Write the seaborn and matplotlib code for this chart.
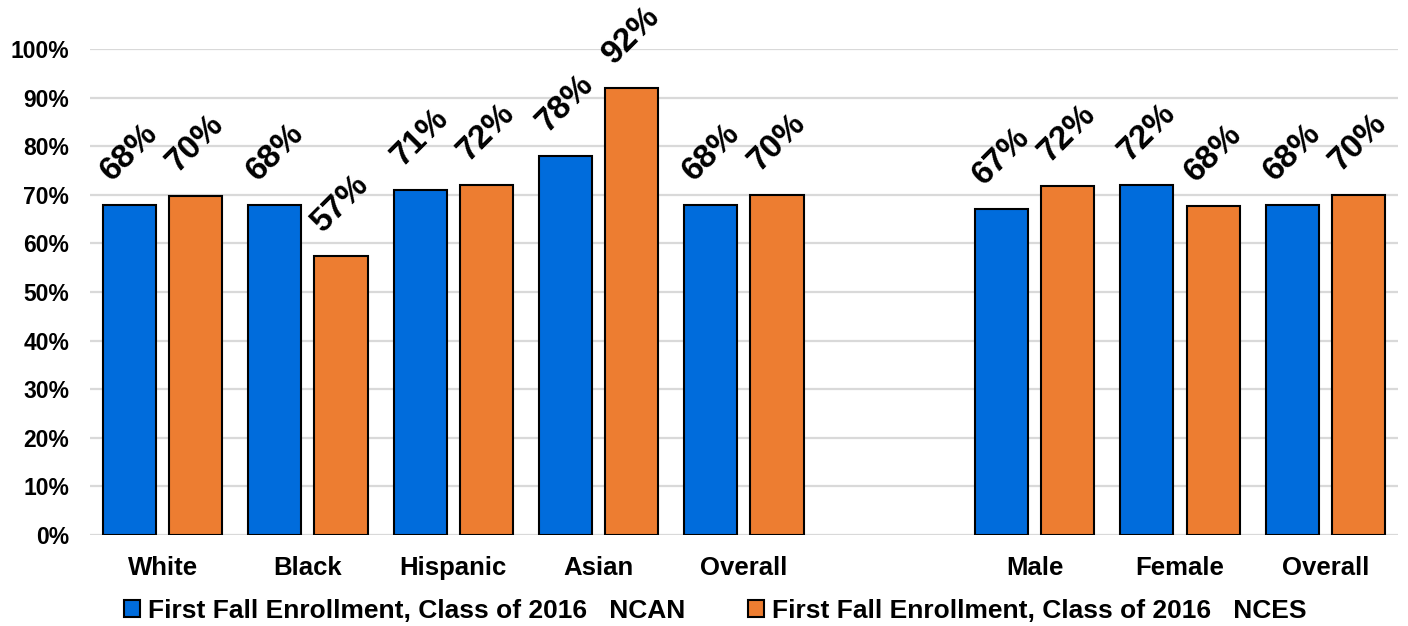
import matplotlib
matplotlib.use("Agg")
import matplotlib.pyplot as plt
import seaborn as sns
import pandas as pd

# Groups shown on the left (race/ethnicity) and right (gender) blocks
race_groups = ["White", "Black", "Hispanic", "Asian", "Overall"]
gender_groups = ["Male", "Female", "Overall"]

# First fall enrollment rates (%) per group
ncan_race = [68.0, 68.0, 71.0, 78.0, 68.0]
nces_race = [69.7, 57.4, 72.1, 92.0, 69.9]
ncan_gender = [67.0, 72.0, 68.0]
nces_gender = [71.9, 67.6, 69.9]

series_names = [
    "First Fall Enrollment, Class of 2016   NCAN",
    "First Fall Enrollment, Class of 2016   NCES",
]
y_ticks = [0, 10, 20, 30, 40, 50, 60, 70, 80, 90, 100]

BLUE = "#006CDC"
ORANGE = "#ED7D31"

# Long-form table; keys are unique so the two "Overall" groups stay separate
rows = []
for block, groups, ncan, nces in [
    ("race", race_groups, ncan_race, nces_race),
    ("gender", gender_groups, ncan_gender, nces_gender),
]:
    for g, a, b in zip(groups, ncan, nces):
        key = f"{block}:{g}"
        rows.append({"key": key, "label": g, "series": series_names[0], "value": a})
        rows.append({"key": key, "label": g, "series": series_names[1], "value": b})
df = pd.DataFrame(rows)

order = [f"race:{g}" for g in race_groups] + ["spacer"] + [f"gender:{g}" for g in gender_groups]
tick_labels = race_groups + [""] + gender_groups

sns.set_theme(style="white")
plt.rcParams["font.family"] = ["Liberation Sans", "DejaVu Sans"]
plt.rcParams["font.weight"] = "bold"
plt.rcParams["text.color"] = "black"
plt.rcParams["xtick.color"] = "black"
plt.rcParams["ytick.color"] = "black"

fig = plt.figure(figsize=(14.08, 6.26), dpi=100)
ax = fig.add_axes([0.0639, 0.1454, 0.9290, 0.7763])

sns.barplot(
    data=df, x="key", y="value", hue="series",
    order=order, hue_order=series_names,
    palette=[BLUE, ORANGE], saturation=1, width=0.909, gap=0.197,
    edgecolor="black", linewidth=1.5, errorbar=None, ax=ax,
)

# Value labels above each bar
for patch in ax.patches:
    h = patch.get_height()
    if h != h or patch.get_width() == 0:
        continue
    xc = patch.get_x() + patch.get_width() / 2
    ax.annotate(
        f"{h:.0f}%", xy=(xc, h), xytext=(0, 13), textcoords="offset points",
        rotation=45, ha="center", va="bottom", fontsize=24, fontweight="bold",
        color="black", annotation_clip=False,
    )

ax.set_xlim(-0.5, len(order) - 0.5)
ax.set_ylim(0, 100)
ax.set_yticks(y_ticks)
ax.set_yticklabels([f"{t}%" for t in y_ticks])
ax.set_xticks(range(len(order)))
ax.set_xticklabels(tick_labels)
ax.tick_params(axis="y", length=0, pad=15, labelsize=16.5, labelcolor="black")
ax.tick_params(axis="x", length=0, pad=15, labelsize=18.5, labelcolor="black")
for lab in ax.get_xticklabels() + ax.get_yticklabels():
    lab.set_fontweight("bold")
ax.set_xlabel("")
ax.set_ylabel("")

ax.yaxis.grid(True, color="#D9D9D9", linewidth=1.6)
ax.set_axisbelow(True)
for s in ax.spines.values():
    s.set_visible(False)

handles, labels = ax.get_legend_handles_labels()
ax.get_legend().remove()
fig.legend(
    handles, labels, loc="center", bbox_to_anchor=(0.508, 0.024), ncol=2,
    frameon=False, prop={"weight": "bold", "size": 19},
    handlelength=0.6, handleheight=0.6, handletextpad=0.3, columnspacing=2.4,
)

fig.savefig("out.png", dpi=100)
